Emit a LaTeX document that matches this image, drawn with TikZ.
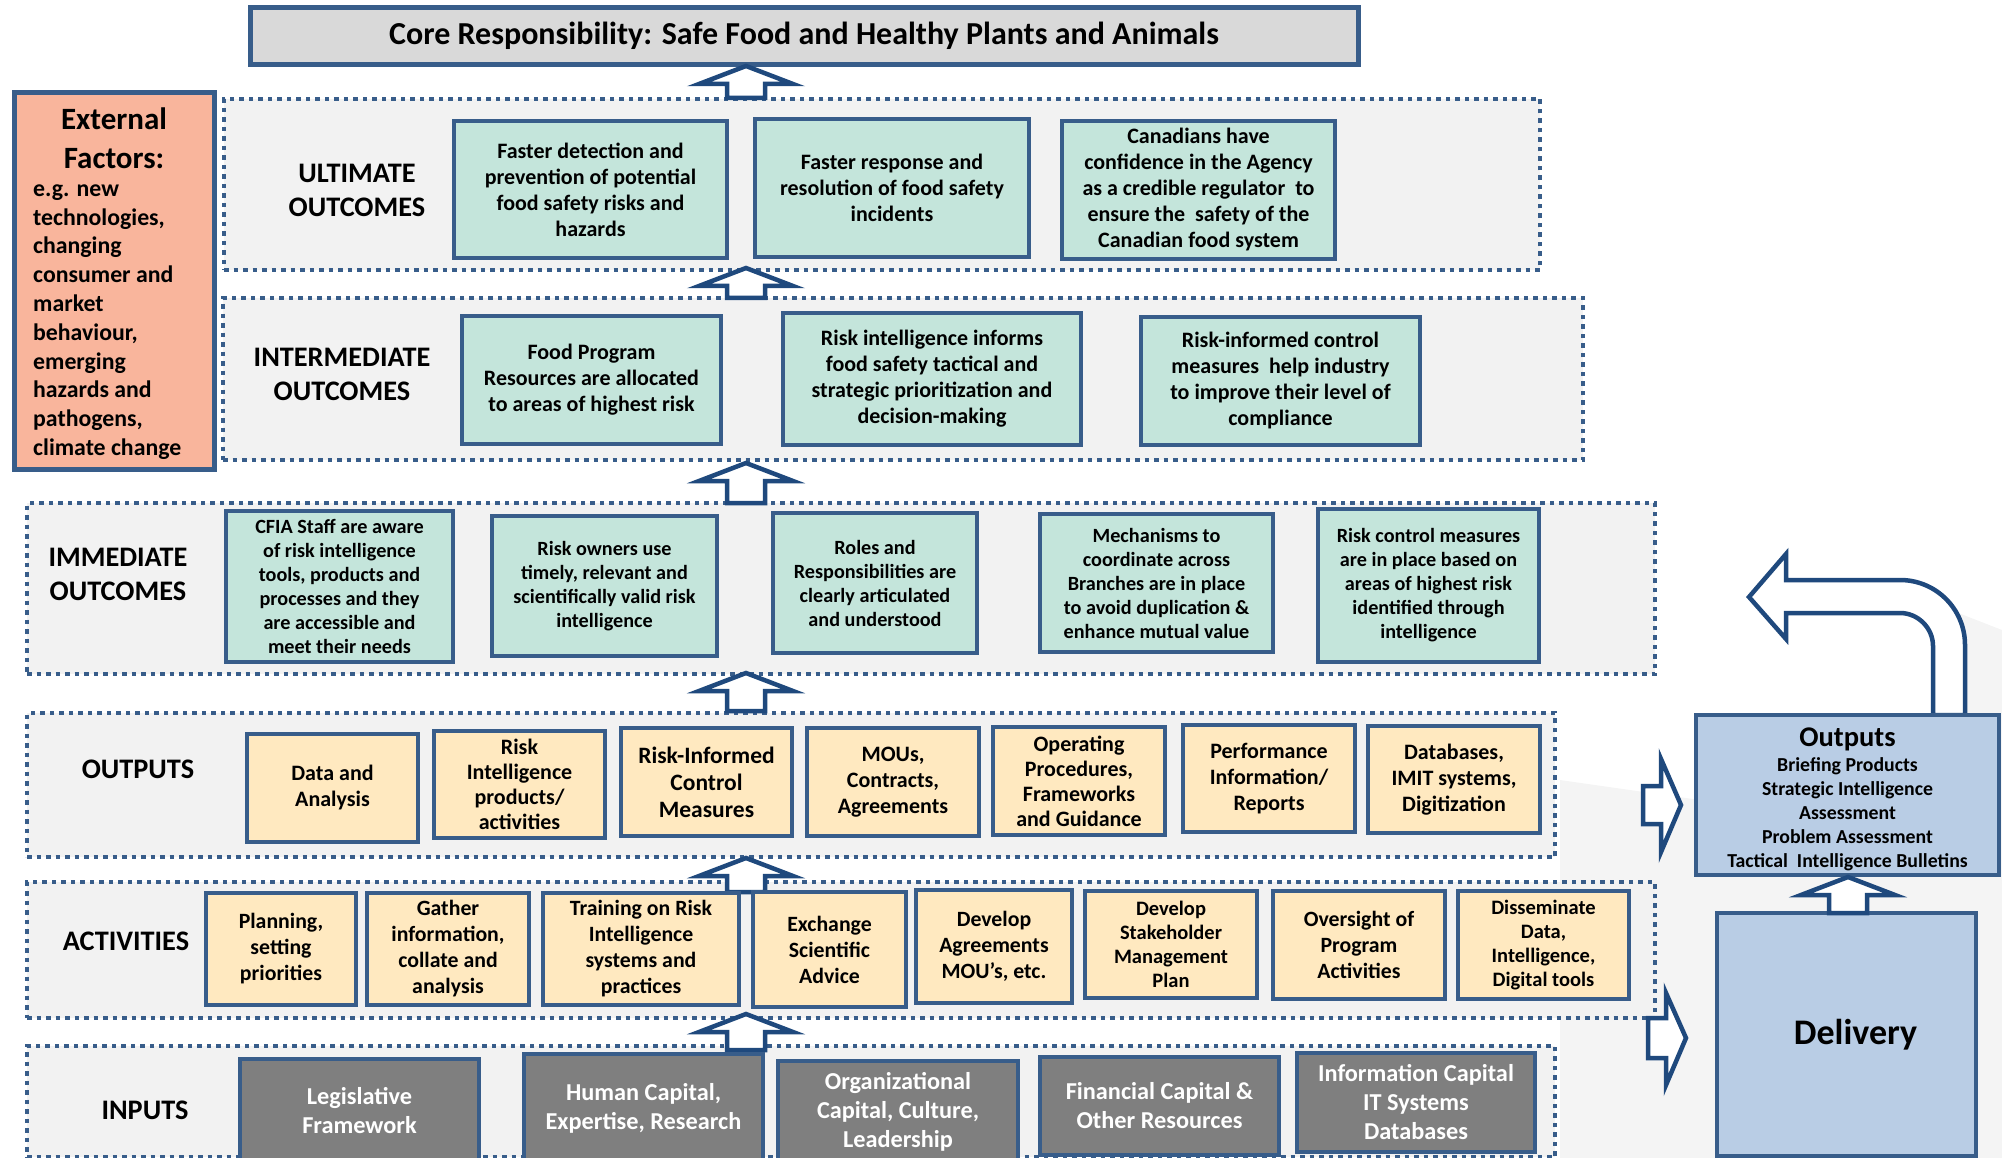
\documentclass[tikz,border=0pt]{standalone}
\usepackage{fontspec}
\setmainfont{Carlito}
\usepackage{tikz}
\usetikzlibrary{positioning}

\definecolor{boxblue}{RGB}{56,93,138}
\definecolor{arrowblue}{RGB}{31,73,125}
\definecolor{tealfill}{RGB}{196,229,219}
\definecolor{sandfill}{RGB}{255,233,192}
\definecolor{inputgrey}{RGB}{127,127,127}
\definecolor{panelgrey}{RGB}{242,242,242}
\definecolor{salmonfill}{RGB}{249,181,156}
\definecolor{coregrey}{RGB}{217,217,217}
\definecolor{deliveryblue}{RGB}{185,205,229}
\definecolor{swooshgrey}{RGB}{244,244,244}

\newcommand{\boxfont}[2]{\fontsize{#1}{#2}\selectfont\bfseries}
% hollow up arrow: x, tip y, tail y
\newcommand{\blockup}[3]{\draw[blockarrow] (#1,#2) -- (#1+47,#2+18) -- (#1+19,#2+18) -- (#1+19,#3) -- (#1-19,#3) -- (#1-19,#2+18) -- (#1-47,#2+18) -- cycle;}

\tikzstyle{panel} = [rectangle, draw=boxblue, fill=panelgrey, line width=4pt, dash pattern=on 4.5pt off 5pt, inner sep=0]
\tikzstyle{rowlabel} = [align=center, inner sep=0, font=\boxfont{28.3}{34}]
\tikzstyle{outcome} = [rectangle, draw=boxblue, fill=tealfill, line width=4.5pt, align=center, inner sep=1pt, font=\boxfont{22}{26}]
\tikzstyle{immediate} = [outcome, font=\boxfont{20.2}{24}]
\tikzstyle{product} = [outcome, fill=sandfill]
\tikzstyle{activity} = [product, font=\boxfont{21.8}{26}]
\tikzstyle{resource} = [outcome, fill=inputgrey, text=white, font=\boxfont{24.3}{29}]
\tikzstyle{bluebox} = [outcome, fill=deliveryblue]
\tikzstyle{blockarrow} = [draw=arrowblue, fill=white, line width=4.5pt, line join=miter]

\begin{document}
\begin{tikzpicture}[x=1pt, y=-1pt]
\useasboundingbox (0,0) rectangle (2002,1158);

% faint background shape
\fill[swooshgrey] (1925,600) -- (2002,630) -- (2002,1158) -- (1560,1158) -- (1560,780) -- (1700,800) -- (1940,715) -- cycle;

% top
\node[rectangle, draw=boxblue, fill=coregrey, line width=5pt, minimum width=1108, minimum height=57, font=\boxfont{32}{36}] (core) at (804,36) {Core Responsibility: Safe Food and Healthy Plants and Animals};

% External factors
\node[rectangle, draw=boxblue, fill=salmonfill, line width=5pt, minimum width=200, minimum height=376] (ext) at (114,281) {};
\node[align=center, inner sep=0, font=\boxfont{31}{39}] (exttitle) at (114,138) {External\\Factors:};
\node[align=left, anchor=west, inner sep=0, font=\boxfont{23.8}{28.8}] (extbody) at (33,322) {e.g. new\\technologies,\\changing\\consumer and\\market\\behaviour,\\emerging\\hazards and\\pathogens,\\climate change};

% row panels
\node[panel, minimum width=1316, minimum height=171] (pult) at (882,184.5) {};
\node[panel, minimum width=1360, minimum height=162] (pint) at (903,379) {};
\node[panel, minimum width=1628, minimum height=171] (pimm) at (841,588.5) {};
\node[panel, minimum width=1528, minimum height=144] (pout) at (791,785) {};
\node[panel, minimum width=1628, minimum height=136] (pact) at (841,950) {};
\node[panel, minimum width=1528, minimum height=111] (pinp) at (791,1101.5) {};

% arrows between rows
\blockup{746}{66}{98}
\blockup{746}{268}{298}
\blockup{746}{463}{503}
\blockup{746}{673}{711}
\blockup{746}{858}{892}
\blockup{746}{1014}{1050}

% row labels
\node[rowlabel] (lult) at (357,190) {ULTIMATE\\OUTCOMES};
\node[rowlabel] (lint) at (342,374) {INTERMEDIATE\\OUTCOMES};
\node[rowlabel] (limm) at (118,574) {IMMEDIATE\\OUTCOMES};
\node[rowlabel] (lout) at (138,769) {OUTPUTS};
\node[rowlabel] (lact) at (126,941) {ACTIVITIES};
\node[rowlabel] (linp) at (145,1110) {INPUTS};

% ultimate outcomes
\node[outcome, minimum width=273, minimum height=137] (u1) at (590.5,189.5) {Faster detection and\\prevention of potential\\food safety risks and\\hazards};
\node[outcome, minimum width=274, minimum height=138] (u2) at (892,188) {Faster response and\\resolution of food safety\\incidents};
\node[outcome, minimum width=273, minimum height=138] (u3) at (1198.5,190) {Canadians have\\confidence in the Agency\\as a credible regulator\ \ to\\ensure the\ \ safety of the\\Canadian food system};

% intermediate outcomes
\node[outcome, minimum width=259, minimum height=128] (i1) at (591.5,380) {Food Program\\Resources are allocated\\to areas of highest risk};
\node[outcome, minimum width=298, minimum height=132] (i2) at (932,379) {Risk intelligence informs\\food safety tactical and\\strategic prioritization and\\decision-making};
\node[outcome, minimum width=279, minimum height=128] (i3) at (1280.5,381) {Risk-informed control\\measures\ \ help industry\\to improve their level of\\compliance};

% immediate outcomes
\node[immediate, minimum width=227, minimum height=151] (m1) at (339.5,586.5) {CFIA Staff are aware\\of risk intelligence\\tools, products and\\processes and they\\are accessible and\\meet their needs};
\node[immediate, minimum width=225, minimum height=140] (m2) at (604.5,586) {Risk owners use\\timely, relevant and\\scientifically valid risk\\intelligence};
\node[immediate, minimum width=204, minimum height=140] (m3) at (875,583) {Roles and\\Responsibilities are\\clearly articulated\\and understood};
\node[immediate, minimum width=233, minimum height=138] (m4) at (1156.5,583) {Mechanisms to\\coordinate across\\Branches are in place\\to avoid duplication \&\\enhance mutual value};
\node[immediate, minimum width=221, minimum height=153] (m5) at (1428.5,585.5) {Risk control measures\\are in place based on\\areas of highest risk\\identified through\\intelligence};

% outputs
\node[product, minimum width=171, minimum height=108] (o1) at (332.5,788) {Data and\\Analysis};
\node[product, minimum width=171, minimum height=107, font=\boxfont{22}{25}] (o2) at (519.5,784.5) {Risk\\Intelligence\\products/\\activities};
\node[product, minimum width=171, minimum height=108, font=\boxfont{23.5}{27}] (o3) at (706.5,782) {Risk-Informed\\Control\\Measures};
\node[product, minimum width=172, minimum height=108] (o4) at (893,782) {MOUs,\\Contracts,\\Agreements};
\node[product, minimum width=172, minimum height=108, font=\boxfont{22}{25}] (o5) at (1079,781) {Operating\\Procedures,\\Frameworks\\and Guidance};
\node[product, minimum width=172, minimum height=107] (o6) at (1269,778.5) {Performance\\Information/\\Reports};
\node[product, minimum width=172, minimum height=107] (o7) at (1454,779.5) {Databases,\\IMIT systems,\\Digitization};

% activities
\node[activity, minimum width=150, minimum height=112] (a1) at (281,949) {Planning,\\setting\\priorities};
\node[activity, minimum width=162, minimum height=112] (a2) at (448,949) {Gather\\information,\\collate and\\analysis};
\node[activity, minimum width=196, minimum height=112] (a3) at (641,949) {Training on Risk\\Intelligence\\systems and\\practices};
\node[activity, minimum width=153, minimum height=115] (a4) at (829.5,949.5) {Exchange\\Scientific\\Advice};
\node[activity, minimum width=156, minimum height=113] (a5) at (994,946.5) {Develop\\Agreements\\MOU’s, etc.};
\node[activity, minimum width=172, minimum height=107, font=\boxfont{20.5}{24}] (a6) at (1171,944.5) {Develop\\Stakeholder\\Management\\Plan};
\node[activity, minimum width=172, minimum height=108] (a7) at (1359,945) {Oversight of\\Program\\Activities};
\node[activity, minimum width=171, minimum height=108, font=\boxfont{20.5}{24}] (a8) at (1543.5,945) {Disseminate\\Data,\\Intelligence,\\Digital tools};

% inputs
\node[resource, minimum width=239, minimum height=103] (n1) at (359.5,1110.5) {Legislative\\Framework};
\node[resource, minimum width=239, minimum height=108] (n2) at (643.5,1108) {Human Capital,\\Expertise, Research};
\node[resource, minimum width=240, minimum height=101] (n3) at (898,1111.5) {Organizational\\Capital, Culture,\\Leadership};
\node[resource, minimum width=239, minimum height=98] (n4) at (1159.5,1106) {Financial Capital \&\\Other Resources};
\node[resource, minimum width=238, minimum height=99] (n5) at (1416,1102.5) {Information Capital\\IT Systems\\Databases};

% delivery side
\draw[blockarrow] (1749,597) -- (1786,554) -- (1786,580) -- (1900,580) .. controls (1936,580) and (1965,609) .. (1965,645) -- (1965,715) -- (1933,715) -- (1933,646) .. controls (1933,628) and (1918,613) .. (1900,613) -- (1786,613) -- (1786,639) -- cycle;
\draw[blockarrow] (1643,786) -- (1661,786) -- (1661,759) -- (1681,805) -- (1661,852) -- (1661,824) -- (1643,824) -- cycle;
\draw[blockarrow] (1648,1018) -- (1666,1018) -- (1666,993) -- (1686,1038) -- (1666,1085) -- (1666,1058) -- (1648,1058) -- cycle;

\node[bluebox, minimum width=303, minimum height=160, font=\boxfont{19.8}{24}] (outbox) at (1847.5,795) {\rule{0pt}{27pt}{\fontsize{28.5}{30}\selectfont Outputs}\\[1pt]Briefing Products\\Strategic Intelligence\\Assessment\\Problem Assessment\\Tactical\ \ Intelligence Bulletins};
\node[bluebox, minimum width=259, minimum height=243, font=\boxfont{36}{40}] (delivery) at (1846.5,1034.5) {\hspace*{18pt}\raisebox{-4pt}{Delivery}};
\blockup{1848}{877}{913}

\end{tikzpicture}
\end{document}
